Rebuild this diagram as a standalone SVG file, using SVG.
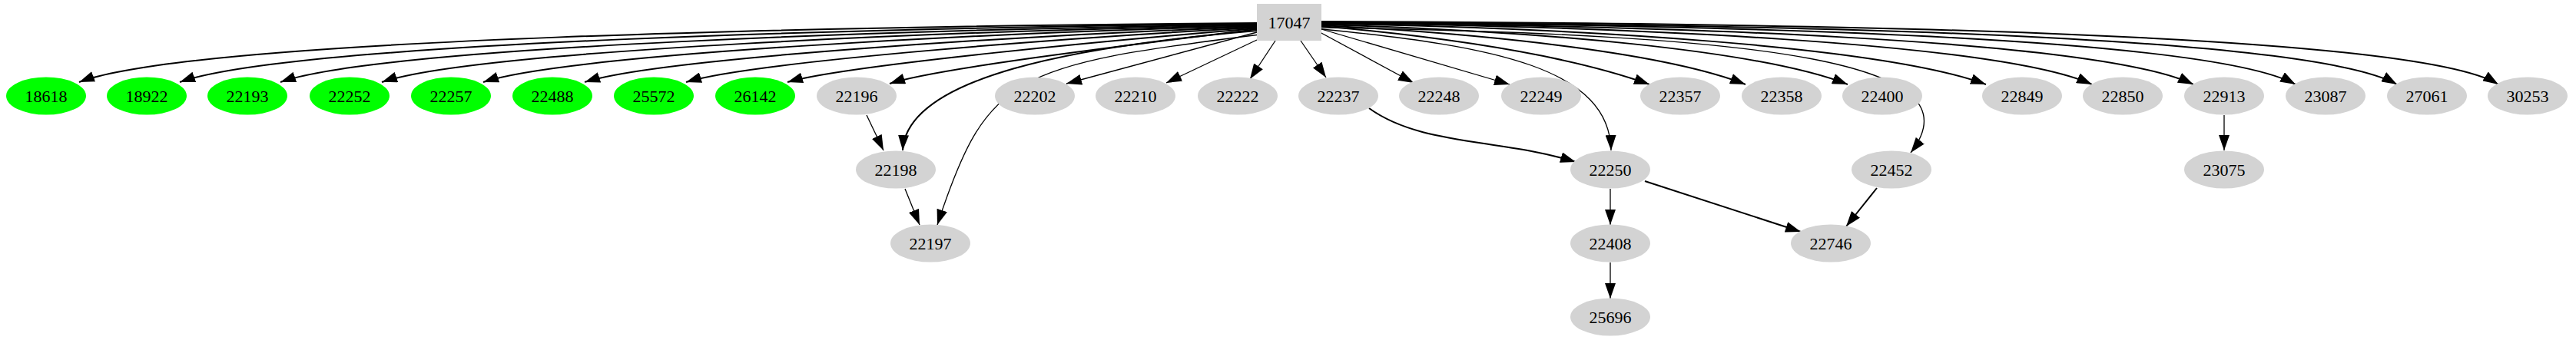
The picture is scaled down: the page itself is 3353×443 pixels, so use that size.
<svg xmlns="http://www.w3.org/2000/svg" width="3353" height="443" viewBox="0 0 3353 443">
<style>
.n ellipse{fill:#d3d3d3;stroke:none}
.g ellipse{fill:#00ff00}
text{font-family:"Liberation Serif",serif;font-size:22px;text-anchor:middle;dominant-baseline:central;fill:#000}
#edges path{fill:none;stroke:#000;stroke-width:2}
#edges path.t{stroke-width:1.3}
</style>
<defs><marker id="a" markerUnits="userSpaceOnUse" markerWidth="22" markerHeight="14" refX="20" refY="7" orient="auto"><path d="M0,0L20,7L0,14z" fill="#000"/></marker></defs>
<rect width="3353" height="443" fill="#fff"/>
<g id="edges">
<path d="M1636,30 C1100,34 250,50 103,107" marker-end="url(#a)"/>
<path d="M1636,31 C1150,36 380,55 234,107" marker-end="url(#a)"/>
<path d="M1636,32 C1200,38 500,60 365,107" marker-end="url(#a)"/>
<path d="M1636,33 C1250,40 620,65 497,107" marker-end="url(#a)"/>
<path d="M1636,34 C1300,42 740,70 629,107" marker-end="url(#a)"/>
<path d="M1636,35 C1350,45 860,75 761,107" marker-end="url(#a)"/>
<path d="M1636,36 C1400,48 980,80 893,107" marker-end="url(#a)"/>
<path d="M1636,37 C1450,52 1100,85 1025,107" marker-end="url(#a)"/>
<path d="M1636,38 C1500,55 1220,88 1158,109" marker-end="url(#a)"/>
<path d="M1636,40 C1400,60 1180,100 1175,196" marker-end="url(#a)"/>
<path class="t" d="M1640,45 C1320,85 1285,95 1220,293" marker-end="url(#a)"/>
<path class="t" d="M1636,42 L1388,109" marker-end="url(#a)"/>
<path class="t" d="M1636,52 L1518,108" marker-end="url(#a)"/>
<path class="t" d="M1660,53 L1627,103" marker-end="url(#a)"/>
<path class="t" d="M1693,53 L1726,101" marker-end="url(#a)"/>
<path class="t" d="M1718,42 L1840,108" marker-end="url(#a)"/>
<path class="t" d="M1720,38 L1965,110" marker-end="url(#a)"/>
<path d="M1720,34 C1900,50 2050,75 2147,110" marker-end="url(#a)"/>
<path d="M1720,33 C1950,45 2170,70 2272,110" marker-end="url(#a)"/>
<path d="M1720,32 C2000,40 2290,65 2405,110" marker-end="url(#a)"/>
<path d="M1720,31 C2050,36 2450,60 2585,110" marker-end="url(#a)"/>
<path d="M1720,30 C2100,34 2600,55 2723,110" marker-end="url(#a)"/>
<path d="M1720,30 C2150,33 2730,50 2855,110" marker-end="url(#a)"/>
<path d="M1720,29 C2200,32 2870,45 2988,110" marker-end="url(#a)"/>
<path d="M1720,29 C2250,31 3000,42 3120,110" marker-end="url(#a)"/>
<path d="M1720,28 C2300,30 3140,40 3252,110" marker-end="url(#a)"/>
<path class="t" d="M1720,38 C1950,60 2095,90 2097,196" marker-end="url(#a)"/>
<path class="t" d="M1720,36 C2300,45 2580,80 2487,199" marker-end="url(#a)"/>
<path class="t" d="M1128,150 L1150,196" marker-end="url(#a)"/>
<path class="t" d="M1178,246 L1197,293" marker-end="url(#a)"/>
<path d="M1782,141 C1850,190 1950,180 2051,211" marker-end="url(#a)"/>
<path class="t" d="M2096,246 L2096,293" marker-end="url(#a)"/>
<path d="M2141,236 L2344,302" marker-end="url(#a)"/>
<path d="M2443,245 L2403,295" marker-end="url(#a)"/>
<path class="t" d="M2895,150 L2895,196" marker-end="url(#a)"/>
<path class="t" d="M2096,342 L2096,389" marker-end="url(#a)"/>
</g>
<g id="n17047" class="n"><rect x="1636" y="5" width="84" height="48" fill="#d3d3d3"/><text x="1678" y="29">17047</text></g>
<g id="n18618" class="n g"><ellipse cx="60" cy="125" rx="52" ry="24.5"/><text x="60" y="125">18618</text></g>
<g id="n18922" class="n g"><ellipse cx="191" cy="125" rx="52" ry="24.5"/><text x="191" y="125">18922</text></g>
<g id="n22193" class="n g"><ellipse cx="322" cy="125" rx="52" ry="24.5"/><text x="322" y="125">22193</text></g>
<g id="n22252" class="n g"><ellipse cx="455" cy="125" rx="52" ry="24.5"/><text x="455" y="125">22252</text></g>
<g id="n22257" class="n g"><ellipse cx="587" cy="125" rx="52" ry="24.5"/><text x="587" y="125">22257</text></g>
<g id="n22488" class="n g"><ellipse cx="719" cy="125" rx="52" ry="24.5"/><text x="719" y="125">22488</text></g>
<g id="n25572" class="n g"><ellipse cx="851" cy="125" rx="52" ry="24.5"/><text x="851" y="125">25572</text></g>
<g id="n26142" class="n g"><ellipse cx="983" cy="125" rx="52" ry="24.5"/><text x="983" y="125">26142</text></g>
<g id="n22196" class="n"><ellipse cx="1115" cy="125" rx="52" ry="24.5"/><text x="1115" y="125">22196</text></g>
<g id="n22202" class="n"><ellipse cx="1347" cy="125" rx="52" ry="24.5"/><text x="1347" y="125">22202</text></g>
<g id="n22210" class="n"><ellipse cx="1478" cy="125" rx="52" ry="24.5"/><text x="1478" y="125">22210</text></g>
<g id="n22222" class="n"><ellipse cx="1611" cy="125" rx="52" ry="24.5"/><text x="1611" y="125">22222</text></g>
<g id="n22237" class="n"><ellipse cx="1742" cy="125" rx="52" ry="24.5"/><text x="1742" y="125">22237</text></g>
<g id="n22248" class="n"><ellipse cx="1873" cy="125" rx="52" ry="24.5"/><text x="1873" y="125">22248</text></g>
<g id="n22249" class="n"><ellipse cx="2006" cy="125" rx="52" ry="24.5"/><text x="2006" y="125">22249</text></g>
<g id="n22357" class="n"><ellipse cx="2187" cy="125" rx="52" ry="24.5"/><text x="2187" y="125">22357</text></g>
<g id="n22358" class="n"><ellipse cx="2319" cy="125" rx="52" ry="24.5"/><text x="2319" y="125">22358</text></g>
<g id="n22400" class="n"><ellipse cx="2450" cy="125" rx="52" ry="24.5"/><text x="2450" y="125">22400</text></g>
<g id="n22849" class="n"><ellipse cx="2632" cy="125" rx="52" ry="24.5"/><text x="2632" y="125">22849</text></g>
<g id="n22850" class="n"><ellipse cx="2763" cy="125" rx="52" ry="24.5"/><text x="2763" y="125">22850</text></g>
<g id="n22913" class="n"><ellipse cx="2895" cy="125" rx="52" ry="24.5"/><text x="2895" y="125">22913</text></g>
<g id="n23087" class="n"><ellipse cx="3027" cy="125" rx="52" ry="24.5"/><text x="3027" y="125">23087</text></g>
<g id="n27061" class="n"><ellipse cx="3159" cy="125" rx="52" ry="24.5"/><text x="3159" y="125">27061</text></g>
<g id="n30253" class="n"><ellipse cx="3290" cy="125" rx="52" ry="24.5"/><text x="3290" y="125">30253</text></g>
<g id="n22198" class="n"><ellipse cx="1166" cy="221" rx="52" ry="24.5"/><text x="1166" y="221">22198</text></g>
<g id="n22250" class="n"><ellipse cx="2096" cy="221" rx="52" ry="24.5"/><text x="2096" y="221">22250</text></g>
<g id="n22452" class="n"><ellipse cx="2462" cy="221" rx="52" ry="24.5"/><text x="2462" y="221">22452</text></g>
<g id="n23075" class="n"><ellipse cx="2895" cy="221" rx="52" ry="24.5"/><text x="2895" y="221">23075</text></g>
<g id="n22197" class="n"><ellipse cx="1211" cy="317" rx="52" ry="24.5"/><text x="1211" y="317">22197</text></g>
<g id="n22408" class="n"><ellipse cx="2096" cy="317" rx="52" ry="24.5"/><text x="2096" y="317">22408</text></g>
<g id="n22746" class="n"><ellipse cx="2383" cy="317" rx="52" ry="24.5"/><text x="2383" y="317">22746</text></g>
<g id="n25696" class="n"><ellipse cx="2096" cy="413" rx="52" ry="24.5"/><text x="2096" y="413">25696</text></g>
</svg>
